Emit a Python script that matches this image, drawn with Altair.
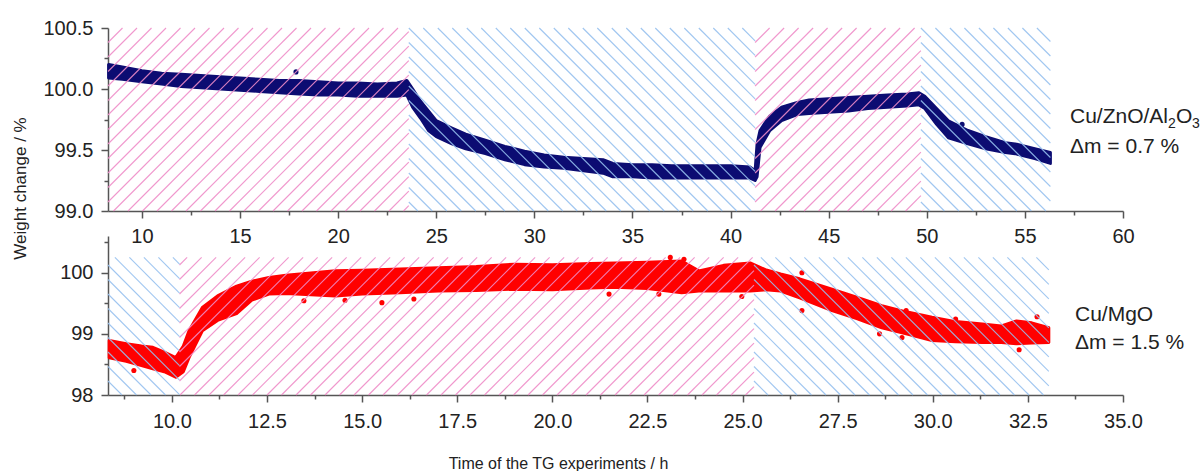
import altair as alt
import pandas as pd

# ---------------- Cu/ZnO/Al2O3 run ----------------
# time (h) and the upper / lower edge of the measured scatter band (weight %)
zno_t = [8.3, 9.0, 10.0, 11.0, 12.0, 13.0, 14.0, 15.0, 16.0, 17.0, 18.0, 19.0, 20.0,
         21.0, 22.0, 23.0, 23.5, 23.8, 24.2, 24.6, 25.0, 25.8, 26.5, 27.5, 28.5,
         29.5, 30.5, 31.5, 32.5, 33.5, 34.0, 35.0, 36.0, 37.0, 38.0, 39.0, 40.0,
         41.0, 41.25, 41.35, 41.5, 42.0, 42.6, 43.4, 44.0, 45.0, 46.0, 47.0, 48.0,
         49.0, 49.6, 49.9, 50.5, 51.1, 52.1, 53.0, 54.0, 54.5, 55.5, 56.3]
zno_hi = [100.20, 100.18, 100.15, 100.13, 100.12, 100.11, 100.10, 100.09, 100.08,
          100.07, 100.07, 100.06, 100.05, 100.05, 100.04, 100.05, 100.07, 100.00,
          99.90, 99.82, 99.74, 99.68, 99.63, 99.58, 99.53, 99.49, 99.46, 99.44,
          99.43, 99.42, 99.39, 99.38, 99.38, 99.37, 99.37, 99.37, 99.37, 99.36,
          99.33, 99.55, 99.66, 99.78, 99.85, 99.89, 99.91, 99.92, 99.93, 99.94,
          99.95, 99.96, 99.97, 99.94, 99.84, 99.74, 99.66, 99.61, 99.56, 99.55,
          99.51, 99.48]
zno_lo = [100.09, 100.08, 100.06, 100.04, 100.02, 100.01, 100.00, 99.99, 99.98,
          99.97, 99.96, 99.95, 99.95, 99.94, 99.94, 99.94, 99.95, 99.85, 99.76,
          99.66, 99.61, 99.55, 99.51, 99.47, 99.42, 99.38, 99.36, 99.35, 99.33,
          99.31, 99.28, 99.28, 99.27, 99.27, 99.27, 99.27, 99.27, 99.27, 99.25,
          99.28, 99.52, 99.66, 99.74, 99.79, 99.80, 99.81, 99.82, 99.84, 99.85,
          99.86, 99.87, 99.84, 99.71, 99.60, 99.55, 99.51, 99.48, 99.47, 99.43,
          99.39]
zno_out_t = [17.85, 51.8]
zno_out_w = [100.14, 99.71]

# gas periods of the ZnO run (h)
zno_start = [8.27, 23.6, 41.25, 49.7]
zno_end = [23.6, 41.25, 49.7, 56.3]
zno_kind = ["pink", "blue", "pink", "blue"]

# ---------------- Cu/MgO run ----------------
mgo_t = [8.35, 8.8, 9.2, 9.5, 9.8, 10.1, 10.3, 10.45, 10.8, 11.2, 11.7, 12.1, 12.55,
         13.0, 14.3, 15.0, 16.0, 17.0, 18.0, 19.0, 20.0, 21.0, 21.65, 22.5, 23.4,
         23.85, 24.5, 25.2, 25.6, 26.0, 26.5, 27.35, 28.0, 28.66, 29.3, 29.98,
         30.6, 31.3, 31.8, 32.2, 32.6, 33.05]
mgo_hi = [98.89, 98.84, 98.80, 98.78, 98.70, 98.61, 98.80, 99.05, 99.43, 99.62,
          99.78, 99.86, 99.92, 99.96, 100.03, 100.04, 100.06, 100.08, 100.10,
          100.14, 100.13, 100.15, 100.16, 100.17, 100.19, 100.03, 100.12, 100.16,
          100.05, 99.98, 99.90, 99.73, 99.60, 99.46, 99.36, 99.27, 99.20, 99.16,
          99.13, 99.21, 99.18, 99.10]
mgo_lo = [98.61, 98.55, 98.48, 98.43, 98.38, 98.29, 98.38, 98.61, 99.05, 99.22,
          99.33, 99.55, 99.65, 99.66, 99.62, 99.65, 99.67, 99.70, 99.71, 99.73,
          99.72, 99.75, 99.76, 99.74, 99.67, 99.70, 99.70, 99.70, 99.72, 99.70,
          99.59, 99.38, 99.25, 99.10, 99.00, 98.89, 98.87, 98.86, 98.86, 98.84,
          98.85, 98.86]
mgo_out_t = [9.0, 9.45, 13.47, 14.55, 15.52, 16.36, 21.49, 22.8, 23.1, 23.46,
             24.98, 26.56, 26.56, 28.6, 29.19, 29.3, 30.6, 32.27, 32.74]
mgo_out_w = [98.40, 98.76, 99.54, 99.55, 99.51, 99.57, 99.65, 99.65, 100.25,
             100.22, 99.61, 100.0, 99.38, 99.0, 98.94, 99.38, 99.24, 98.74, 99.28]

mgo_start = [8.32, 10.2, 25.3]
mgo_end = [10.2, 25.3, 33.05]
mgo_kind = ["blue", "pink", "blue"]

labels = ["Cu/ZnO/Al", "Cu/MgO"]
delta_m = [0.7, 1.5]

FONT = "Liberation Sans"
AXIS_GREY = "#555555"
TEXT = "#222222"
PINK = "#ee8cc8"
BLUE = "#96c0ee"
W = 1015


def hatch_table(starts, ends, kinds, xdom, ydom, ytop, width, height, step=14.5):
    """Diagonal hatch segments for each gas period, 45 degrees on screen."""
    sx = width / (xdom[1] - xdom[0])
    sy = height / (ydom[1] - ydom[0])
    yt = (ydom[1] - ytop) * sy
    yb = float(height)
    rows = []
    for x0, x1, kind in zip(starts, ends, kinds):
        span = (x1 - x0) * sx
        for k in range(-120, 120):
            c = k * step
            if kind == "pink":
                lo, hi = max(0.0, c - yb), min(span, c - yt)
                if hi <= lo:
                    continue
                ya, yb_ = c - lo, c - hi
            else:
                lo, hi = max(0.0, yt - c), min(span, yb - c)
                if hi <= lo:
                    continue
                ya, yb_ = lo + c, hi + c
            rows.append({
                "kind": kind,
                "t": x0 + lo / sx, "t2": x0 + hi / sx,
                "w": ydom[1] - ya / sy, "w2": ydom[1] - yb_ / sy,
            })
    return pd.DataFrame(rows)


def ticks(lo, hi, step):
    out, v = [], lo
    while v <= hi + 1e-9:
        out.append(round(v, 4))
        v += step
    return out


def major_test(step):
    return f"abs(datum.value / {step} - round(datum.value / {step})) < 1e-6"


def make_axis(values, major, fmt, pad, **kw):
    test = major_test(major)
    return alt.Axis(
        values=values, format=fmt, grid=False,
        labelExpr=f"{test} ? datum.label : ''",
        tickSize={"condition": {"test": test, "value": 7}, "value": 4},
        tickColor=AXIS_GREY, tickWidth=1.5, domainColor=AXIS_GREY, domainWidth=1.5,
        labelColor=TEXT, labelFont=FONT, labelFontSize=20, labelPadding=pad,
        labelOverlap=False, labelFlush=False, titleFont=FONT, titleColor=TEXT,
        **kw,
    )


def panel(t, hi, lo, out_t, out_w, starts, ends, kinds, xdom, ydom, ytop,
          height, color, xaxis, yaxis, texts):
    band = pd.DataFrame({"t": t, "w": hi, "w2": lo})
    outl = pd.DataFrame({"t": out_t, "w": out_w})
    hatch = hatch_table(starts, ends, kinds, xdom, ydom, ytop, W, height)

    X = alt.X("t:Q", scale=alt.Scale(domain=xdom, nice=False, zero=False), axis=xaxis)
    Y = alt.Y("w:Q", scale=alt.Scale(domain=ydom, nice=False, zero=False), axis=yaxis)

    area = alt.Chart(band).mark_area(
        color=color, opacity=1, stroke=color, strokeWidth=3, strokeJoin="round"
    ).encode(x=X, y=Y, y2="w2:Q")
    odots = alt.Chart(outl).mark_circle(color=color, size=26, opacity=1).encode(x=X, y=Y)

    layers = [area, odots]
    for kind, col in (("pink", PINK), ("blue", BLUE)):
        sub = hatch[hatch["kind"] == kind]
        layers.append(
            alt.Chart(sub).mark_rule(color=col, strokeWidth=1.1, opacity=0.9)
            .encode(x=X, x2="t2:Q", y=Y, y2="w2:Q")
        )
    for txt, xp, yp, fs in texts:
        layers.append(
            alt.Chart(pd.DataFrame({"s": [txt]}))
            .mark_text(align="left", baseline="alphabetic", font=FONT, fontSize=fs, color=TEXT)
            .encode(text="s:N", x=alt.value(xp), y=alt.value(yp))
        )
    return alt.layer(*layers).properties(width=W, height=height)


# ---- top panel: Cu/ZnO/Al2O3 ----
top_x = make_axis(ticks(10, 60, 2.5), 5, "d", 8, title="")
top_y = make_axis(ticks(99.0, 100.5, 0.25), 0.5, ".1f", 8,
                  title="Weight change / %", titleFontSize=17, titleFontWeight="normal",
                  titleX=-79, titleY=160, titleAlign="center", titleBaseline="bottom",
                  titleAngle=270)
top_texts = [
    (labels[0], 962, 95, 21), ("2", 1060, 100, 14), ("O", 1068, 95, 21), ("3", 1084, 100, 14),
    (f"\u0394m = {delta_m[0]} %", 962, 125, 21),
]
top = panel(zno_t, zno_hi, zno_lo, zno_out_t, zno_out_w, zno_start, zno_end, zno_kind,
            [8.27, 60], [99.0, 100.5], 100.5, 183, "#0c0c72", top_x, top_y, top_texts)

# ---- bottom panel: Cu/MgO ----
bot_x = make_axis(ticks(8.75, 35, 1.25), 2.5, ".1f", 9,
                  title="Time of the TG experiments / h", titleFontSize=16,
                  titleFontWeight="normal", titleX=450, titleY=73, titleAlign="center",
                  titleBaseline="alphabetic")
bot_y = make_axis(ticks(98, 100.5, 0.5), 1, ".0f", 8, title="")
bot_texts = [
    (labels[1], 967, 85, 21),
    (f"\u0394m = {delta_m[1]} %", 967, 113, 21),
]
bottom = panel(mgo_t, mgo_hi, mgo_lo, mgo_out_t, mgo_out_w, mgo_start, mgo_end, mgo_kind,
               [8.32, 35], [98, 100.6], 100.25, 159, "#ff0000", bot_x, bot_y, bot_texts)

chart = (
    alt.vconcat(top, bottom, spacing=25, bounds="flush")
    .properties(padding={"left": 11, "top": 18, "right": 0, "bottom": 0}, background="white")
    .configure_view(strokeWidth=0)
)

chart.save("out.html", embed_options={"renderer": "svg", "actions": False})
